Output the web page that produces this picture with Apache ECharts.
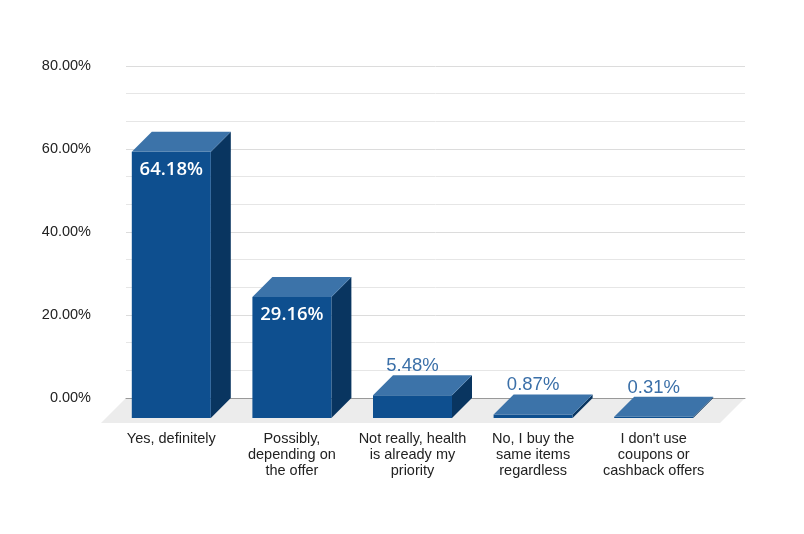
<!DOCTYPE html>
<html>
<head>
<meta charset="utf-8">
<script src="https://cdn.jsdelivr.net/npm/echarts@6/dist/echarts.min.js"></script>
<style>
  html, body { margin: 0; padding: 0; background: #fff; }
  #chart { width: 804px; height: 534px; }
</style>
</head>
<body>
<div id="chart"></div>
<script>
'use strict';

// survey answers
var categories = [
  'Yes, definitely',
  'Possibly,\ndepending on\nthe offer',
  'Not really, health\nis already my\npriority',
  'No, I buy the\nsame items\nregardless',
  "I don't use\ncoupons or\ncashback offers"
];
var shares = [64.18, 29.16, 5.48, 0.87, 0.31];
var yTicks = [0, 20, 40, 60, 80];

var DEPTH = 20; // 3d offset of the bars
var FLOOR = 25; // depth of the grey floor

var chart = echarts.init(document.getElementById('chart'));

// grey floor under the bars
function renderFloor(params, api) {
  var cs = params.coordSys;
  var yb = cs.y + cs.height;
  return {
    type: 'polygon',
    shape: {
      points: [
        [cs.x, yb], [cs.x + cs.width, yb],
        [cs.x + cs.width - FLOOR, yb + FLOOR], [cs.x - FLOOR, yb + FLOOR]
      ]
    },
    style: { fill: '#ececec' }
  };
}

// a box: front face, top, right side and its label
function renderBar(params, api) {
  var v = api.value(1);
  var top = api.coord([api.value(0), v]);
  var base = api.coord([api.value(0), 0]);
  var w = api.size([1, 0])[0] * 0.655;
  var x0 = top[0] - w / 2, x1 = top[0] + w / 2;
  var d = DEPTH;
  var inside = v >= 20;
  return {
    type: 'group',
    children: [
      {
        type: 'polygon',
        shape: { points: [[x1, top[1] + d], [x1 + d, top[1]], [x1 + d, base[1]], [x1, base[1] + d]] },
        style: { fill: '#093560' }
      },
      {
        type: 'rect',
        shape: { x: x0, y: top[1] + d, width: w, height: base[1] - top[1] },
        style: { fill: '#0e4f8f' }
      },
      {
        type: 'polygon',
        shape: { points: [[x0, top[1] + d], [x0 + d, top[1]], [x1 + d, top[1]], [x1, top[1] + d]] },
        style: { fill: '#3c73a9' }
      },
      {
        type: 'text',
        style: {
          x: top[0],
          y: inside ? top[1] + d + 18 : top[1] - 9,
          text: v.toFixed(2) + '%',
          align: 'center',
          verticalAlign: 'middle',
          fill: inside ? '#ffffff' : '#3a6fa8',
          fontSize: 18.5,
          fontWeight: inside ? 600 : 'normal',
          fontFamily: inside ? '"Open Sans"' : '"Liberation Sans"'
        }
      }
    ]
  };
}

var option = {
  animation: false,
  textStyle: { fontFamily: '"Liberation Sans"' },
  grid: [
    { left: 126, right: 59, top: 66, bottom: 136 },
    { left: 111, right: 90, top: 66, bottom: 136 }
  ],
  xAxis: [
    {
      type: 'value',
      gridIndex: 0,
      min: 0,
      max: 1,
      axisLine: { show: true, lineStyle: { color: '#999', width: 1 } },
      axisTick: { show: false },
      axisLabel: { show: false },
      splitLine: { show: false }
    },
    {
      type: 'category',
      gridIndex: 1,
      data: categories,
      axisLine: { show: false },
      axisTick: { show: false },
      axisLabel: {
        margin: 33,
        color: '#222',
        fontSize: 14.5,
        lineHeight: 16,
        fontFamily: '"Liberation Sans"',
        interval: 0
      }
    }
  ],
  yAxis: [
    {
      type: 'value',
      gridIndex: 0,
      min: yTicks[0],
      max: yTicks[yTicks.length - 1],
      interval: 20,
      axisLine: { show: false },
      axisTick: { show: false },
      axisLabel: {
        margin: 35,
        color: '#222',
        fontSize: 14.5,
        fontFamily: '"Liberation Sans"',
        formatter: function(v) { return v.toFixed(2) + '%'; }
      },
      splitLine: { lineStyle: { color: '#dcdcdc', width: 1 } },
      minorTick: { show: false, splitNumber: 3 },
      minorSplitLine: { show: true, lineStyle: { color: '#e6e6e6', width: 1 } }
    },
    {
      type: 'value',
      gridIndex: 1,
      min: yTicks[0],
      max: yTicks[yTicks.length - 1],
      show: false
    }
  ],
  series: [
    {
      type: 'custom',
      xAxisIndex: 0,
      yAxisIndex: 0,
      z: -1,
      data: [[0, 0]],
      renderItem: renderFloor,
      silent: true
    },
    {
      type: 'custom',
      xAxisIndex: 1,
      yAxisIndex: 1,
      z: 3,
      data: shares.map(function(v, i) { return [i, v]; }),
      renderItem: renderBar
    }
  ]
};

chart.setOption(option);
window.onresize = chart.resize;
</script>
</body>
</html>
